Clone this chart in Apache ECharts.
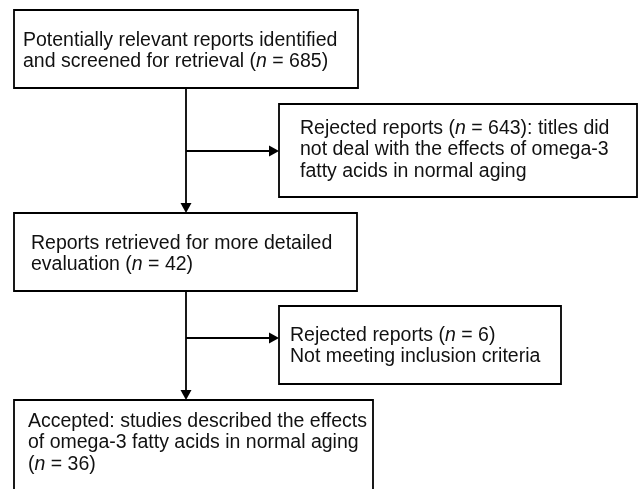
<!DOCTYPE html>
<html>
<head>
<meta charset="utf-8">
<script src="https://cdn.jsdelivr.net/npm/echarts@6/dist/echarts.min.js"></script>
<style>
  html, body { margin: 0; padding: 0; background: #fff; }
  #chart { width: 640px; height: 489px; }
</style>
</head>
<body>
<div id="chart"></div>
<script>
// flow counts (n) for each step
const stepCounts = [685, 643, 42, 6, 36]

// text lines of each box, {n} is replaced by the count
const stepLines = [
  ['Potentially relevant reports identified', 'and screened for retrieval ({i|n} = {n})'],
  ['Rejected reports ({i|n} = {n}): titles did', 'not deal with the effects of omega-3', 'fatty acids in normal aging'],
  ['Reports retrieved for more detailed', 'evaluation ({i|n} = {n})'],
  ['Rejected reports ({i|n} = {n})', 'Not meeting inclusion criteria'],
  ['Accepted: studies described the effects', 'of omega-3 fatty acids in normal aging', '({i|n} = {n})']
]

// box layout: [x, y, w, h, textPadLeft, textCenterY]
const boxLayout = [
  [14, 10, 344, 78, 9, 51],
  [279, 104, 358, 93, 21, 150],
  [14, 213, 343, 78, 17, 254],
  [279, 306, 282, 78, 11, 346],
  [14, 400, 359, 110, 14, 443]
]

const chart = echarts.init(document.getElementById('chart'))

const FONT = '"Liberation Sans", Arial, sans-serif'
const FS = 19.5
const LH = 21.5
const elements = []

boxLayout.forEach((b, i) => {
  const [x, y, w, h, pad, cy] = b
  elements.push({
    type: 'rect',
    shape: { x, y, width: w, height: h },
    style: { fill: '#fff', stroke: '#000', lineWidth: 1.8 }
  })
  const txt = stepLines[i].map((l) => l.replace('{n}', stepCounts[i])).join('\n')
  elements.push({
    type: 'text',
    x: x + pad,
    y: cy,
    style: {
      text: txt,
      fill: '#111',
      font: FS + 'px ' + FONT,
      lineHeight: LH,
      align: 'left',
      verticalAlign: 'middle',
      rich: {
        i: { fontStyle: 'italic', fontSize: FS, fontFamily: FONT, fill: '#111', lineHeight: LH }
      }
    }
  })
})

const lineStyle = { stroke: '#000', lineWidth: 1.8 }
const stemX = 186

// connector segments [x1, y1, x2, y2]
const segs = [
  [stemX, 88, stemX, 204],
  [stemX, 151, 270, 151],
  [stemX, 291, stemX, 391],
  [stemX, 338, 270, 338]
]
segs.forEach((s) => {
  elements.push({ type: 'line', shape: { x1: s[0], y1: s[1], x2: s[2], y2: s[3] }, style: lineStyle })
})

// arrow heads (tip point)
const arrowDown = (x, y) => ({ type: 'polygon', shape: { points: [[x - 5.5, y - 10], [x + 5.5, y - 10], [x, y]] }, style: { fill: '#000' } })
const arrowRight = (x, y) => ({ type: 'polygon', shape: { points: [[x - 10, y - 5.5], [x - 10, y + 5.5], [x, y]] }, style: { fill: '#000' } })
elements.push(arrowDown(stemX, 213))
elements.push(arrowRight(279, 151))
elements.push(arrowDown(stemX, 400))
elements.push(arrowRight(279, 338))

chart.setOption({
  backgroundColor: '#fff',
  animation: false,
  graphic: { elements }
})
</script>
</body>
</html>
